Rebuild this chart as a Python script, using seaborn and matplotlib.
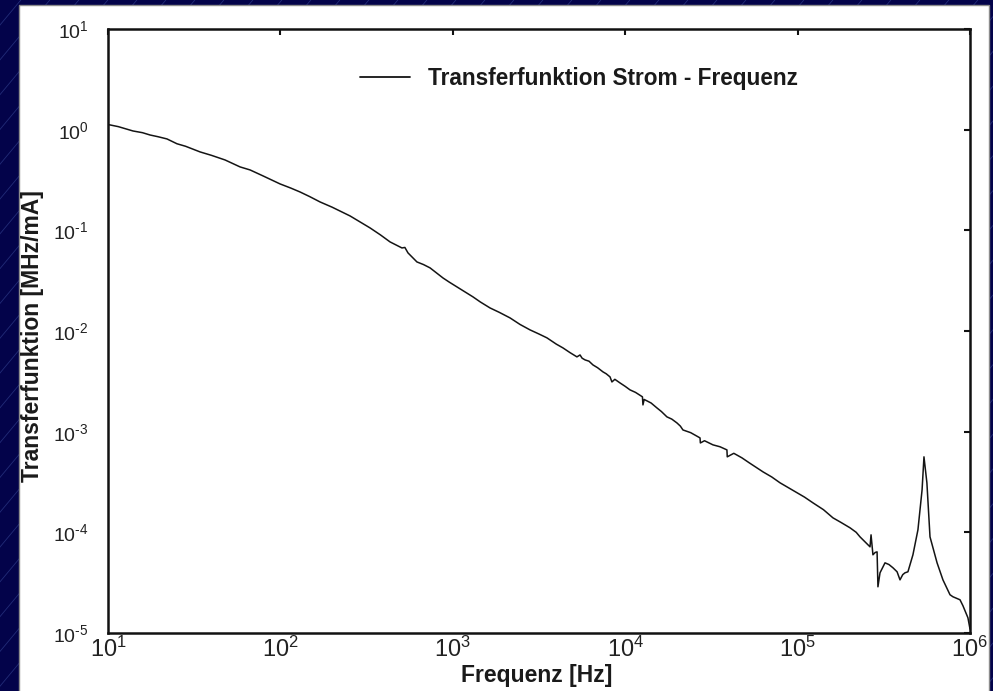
import numpy as np
import pandas as pd
import matplotlib
matplotlib.use("Agg")
import matplotlib.pyplot as plt
from matplotlib.lines import Line2D
from matplotlib.patches import Rectangle
from matplotlib.ticker import FixedFormatter
import seaborn as sns

# ---- data (decade exponents) ----
freq_exp = [
    1.000, 1.012, 1.060, 1.145, 1.200, 1.244, 1.290, 1.342, 1.400, 1.450,
    1.534, 1.600, 1.679, 1.766, 1.824, 1.900, 1.998, 2.060, 2.114, 2.170,
    2.230, 2.300, 2.350, 2.404, 2.460, 2.520, 2.580, 2.636, 2.705, 2.722,
    2.740, 2.792, 2.830, 2.868, 2.943, 2.980, 3.024, 3.070, 3.117, 3.160,
    3.216, 3.270, 3.332, 3.390, 3.448, 3.500, 3.546, 3.600, 3.639, 3.680,
    3.720, 3.738, 3.750, 3.767, 3.790, 3.813, 3.840, 3.871, 3.890, 3.912,
    3.923, 3.940, 3.970, 4.000, 4.028, 4.060, 4.100, 4.103, 4.110, 4.150,
    4.184, 4.210, 4.242, 4.270, 4.300, 4.320, 4.335, 4.380, 4.434, 4.436,
    4.460, 4.509, 4.550, 4.590, 4.592, 4.630, 4.677, 4.720, 4.760, 4.800,
    4.850, 4.898, 4.950, 4.997, 5.040, 5.089, 5.150, 5.205, 5.250, 5.304,
    5.340, 5.362, 5.400, 5.420, 5.426, 5.437, 5.450, 5.461, 5.466, 5.478,
    5.507, 5.530, 5.553, 5.577, 5.594, 5.610, 5.623, 5.640, 5.669, 5.698,
    5.722, 5.733, 5.750, 5.768, 5.809, 5.843, 5.884, 5.901, 5.942, 5.959,
    5.988, 6.000,
]
transfer_exp = [
    0.050, 0.047, 0.030, -0.013, -0.030, -0.053, -0.070, -0.092, -0.140, -0.165,
    -0.221, -0.255, -0.301, -0.370, -0.400, -0.460, -0.539, -0.580, -0.619, -0.665,
    -0.718, -0.770, -0.812, -0.857, -0.915, -0.976, -1.045, -1.115, -1.175, -1.170,
    -1.224, -1.314, -1.340, -1.373, -1.473, -1.515, -1.562, -1.610, -1.661, -1.712,
    -1.771, -1.815, -1.870, -1.935, -1.989, -2.030, -2.068, -2.130, -2.168, -2.215,
    -2.257, -2.238, -2.270, -2.287, -2.300, -2.337, -2.365, -2.406, -2.425, -2.456,
    -2.506, -2.480, -2.516, -2.550, -2.585, -2.610, -2.654, -2.734, -2.680, -2.715,
    -2.764, -2.800, -2.853, -2.875, -2.913, -2.945, -2.983, -3.010, -3.062, -3.112,
    -3.090, -3.131, -3.150, -3.181, -3.250, -3.215, -3.260, -3.310, -3.355, -3.400,
    -3.450, -3.508, -3.560, -3.608, -3.650, -3.707, -3.775, -3.856, -3.900, -3.955,
    -4.000, -4.045, -4.110, -4.144, -4.025, -4.223, -4.200, -4.194, -4.541, -4.402,
    -4.303, -4.320, -4.352, -4.392, -4.472, -4.420, -4.402, -4.392, -4.223, -3.975,
    -3.578, -3.250, -3.508, -4.045, -4.303, -4.472, -4.620, -4.640, -4.670, -4.729,
    -4.849, -4.960,
]
x_ticks = [1e1, 1e2, 1e3, 1e4, 1e5, 1e6]
x_tick_exps = ["1", "2", "3", "4", "5", "6"]
y_ticks = [1e-5, 1e-4, 1e-3, 1e-2, 1e-1, 1e0, 1e1]
y_tick_exps = ["-5", "-4", "-3", "-2", "-1", "0", "1"]
x_label = "Frequenz [Hz]"
y_label = "Transferfunktion [MHz/mA]"
series_label = "Transferfunktion Strom - Frequenz"

df = pd.DataFrame({
    "freq": np.power(10.0, freq_exp),
    "transfer": np.power(10.0, transfer_exp),
})

sns.set_style("white")
plt.rcParams["font.family"] = ["Liberation Sans", "DejaVu Sans"]
plt.rcParams["mathtext.fontset"] = "custom"
plt.rcParams["mathtext.rm"] = "Liberation Sans"
plt.rcParams["mathtext.it"] = "Liberation Sans:italic"
plt.rcParams["mathtext.bf"] = "Liberation Sans:bold"

W, H = 993, 691
fig = plt.figure(figsize=(W / 100, H / 100), dpi=100, facecolor="#03034a")

# slide background: faint diagonal lines
slope = 1.2
for c in range(-700, W + 30, 29):
    x0, y0 = c, 0
    x1, y1 = c + H / slope, H
    fig.add_artist(Line2D([x0 / W, x1 / W], [y0 / H, y1 / H],
                          transform=fig.transFigure, color="#222c78",
                          lw=0.6, zorder=0))
# white panel
fig.add_artist(Rectangle((19 / W, -0.01), (989 - 19) / W, 1.01 - 5 / H,
                         transform=fig.transFigure, facecolor="white",
                         edgecolor="#8c8c8c", lw=1.0, zorder=1))

ax = fig.add_axes([108 / W, 1 - 633 / H, (970 - 108) / W, (633 - 29) / H])
ax.set_zorder(2)
ax.set_facecolor("white")

sns.lineplot(data=df, x="freq", y="transfer", ax=ax, color="#141414",
             lw=1.1, label=series_label, estimator=None, sort=False)

ax.set_xscale("log")
ax.set_yscale("log")
ax.set_xlim(1e1, 1e6)
ax.set_ylim(1e-5, 1e1)
ax.set_xticks(x_ticks)
ax.set_yticks(y_ticks)
ax.minorticks_off()
ax.xaxis.set_major_formatter(
    FixedFormatter([r"$10^{\text{%s}}$" % e for e in x_tick_exps]))
ax.yaxis.set_major_formatter(
    FixedFormatter([r"$10^{\text{%s}}$" % e for e in y_tick_exps]))

for s in ax.spines.values():
    s.set_visible(True)
    s.set_linewidth(1.8)
    s.set_color("#111111")

ax.tick_params(axis="both", which="major", direction="in", length=4,
               width=1.5, top=True, right=True, colors="#111111")
ax.tick_params(axis="x", labelsize=17, pad=3, labelcolor="#222222")
ax.tick_params(axis="y", labelsize=14, pad=14, labelcolor="#222222")

ax.set_xlabel(x_label, fontsize=16.5, fontweight="bold", color="#1a1a1a")
ax.set_ylabel(y_label, fontsize=16.5, fontweight="bold", color="#1a1a1a")
ax.xaxis.set_label_coords((537 - 108) / 862, (633 - 664) / 604)
ax.xaxis.label.set_va("top")
ax.yaxis.set_label_coords((44 - 108) / 862, (633 - 336) / 604)

leg = ax.legend(loc="center left",
                bbox_to_anchor=(360 / W, 1 - 78 / H),
                bbox_transform=fig.transFigure,
                frameon=False, borderpad=0, borderaxespad=0,
                handlelength=2.2, handletextpad=0.8,
                prop={"size": 16.3, "weight": "bold"})
for t in leg.get_texts():
    t.set_color("#1a1a1a")
for h in leg.get_lines():
    h.set_linewidth(1.3)

fig.savefig("out.png", dpi=100, facecolor=fig.get_facecolor())
